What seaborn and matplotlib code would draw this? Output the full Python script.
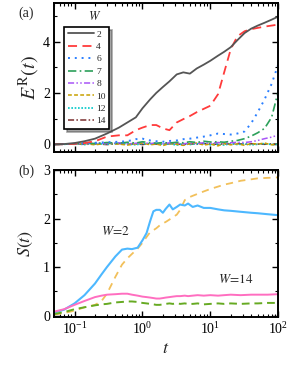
import matplotlib
matplotlib.use("Agg")
import matplotlib.pyplot as plt
import matplotlib.ticker as mticker
import pandas as pd
import seaborn as sns

# ---- panel (a): E^R(t) for each disorder W ----
t_a = [0.05, 0.07, 0.1, 0.14, 0.2, 0.3, 0.45, 0.6, 0.8, 1.0, 1.3, 1.6, 2.0, 2.5, 3.2,
       4.0, 5.0, 6.3, 8.0, 10, 13, 16, 20, 25, 32, 40, 50, 63, 80, 100]
e_w2 = [0.0, 0.01, 0.05, 0.12, 0.22, 0.42, 0.65, 0.85, 1.05, 1.4, 1.75, 2.0, 2.23, 2.45, 2.72,
        2.8, 2.75, 2.95, 3.1, 3.25, 3.45, 3.6, 3.78, 4.05, 4.33, 4.5, 4.62, 4.73, 4.85, 4.97]
e_w4 = [0.0, 0.0, 0.02, 0.05, 0.12, 0.3, 0.35, 0.35, 0.55, 0.65, 0.75, 0.75, 0.62, 0.55, 0.85,
        0.98, 1.1, 1.25, 1.38, 1.5, 1.95, 2.8, 3.7, 4.2, 4.4, 4.48, 4.53, 4.58, 4.62, 4.66]
e_w6 = [0.0, 0.01, 0.02, 0.04, 0.06, 0.08, 0.1, 0.12, 0.2, 0.22, 0.15, 0.12, 0.1, 0.13, 0.15,
        0.2, 0.22, 0.26, 0.3, 0.35, 0.42, 0.4, 0.38, 0.42, 0.5, 0.82, 1.25, 1.75, 2.35, 3.1]
e_w7 = [0.0, 0.01, 0.02, 0.05, 0.03, 0.07, 0.04, 0.08, 0.05, 0.1, 0.06, 0.04, 0.07, 0.05, 0.08,
        0.06, 0.1, 0.07, 0.12, 0.09, 0.1, 0.08, 0.12, 0.15, 0.22, 0.32, 0.45, 0.62, 1.05, 2.05]
e_w8 = [0.0, 0.01, 0.03, 0.02, 0.05, 0.03, 0.06, 0.02, 0.04, 0.07, 0.03, 0.05, 0.02, 0.06, 0.04,
        0.02, 0.05, 0.03, 0.06, 0.04, 0.07, 0.05, 0.06, 0.08, 0.07, 0.1, 0.15, 0.22, 0.28, 0.36]
e_w10 = [0.0, 0.01, 0.0, 0.03, -0.02, 0.04, 0.01, -0.03, 0.02, 0.05, -0.02, 0.01, -0.05, 0.03, 0.0,
         -0.04, 0.02, 0.05, -0.03, 0.01, -0.06, 0.03, -0.02, 0.02, -0.04, 0.03, 0.01, 0.05, -0.02, 0.02]
e_w12 = [0.0, 0.0, 0.02, -0.01, 0.03, 0.0, 0.05, 0.01, -0.02, 0.03, 0.0, 0.04, -0.01, 0.02, -0.03,
         0.03, -0.01, 0.02, 0.04, -0.02, 0.01, -0.03, 0.03, -0.01, 0.02, -0.02, 0.0, 0.03, -0.01, 0.01]
e_w14 = [0.0, 0.01, 0.01, 0.0, 0.02, -0.01, 0.03, 0.0, 0.02, -0.01, 0.03, 0.01, 0.0, 0.02, 0.01,
         -0.01, 0.02, 0.0, 0.03, 0.01, 0.0, 0.02, 0.01, 0.03, 0.0, 0.02, 0.01, 0.0, 0.02, 0.01]
w_labels = ["2", "4", "6", "7", "8", "10", "12", "14"]

# ---- panel (b): S(t) ----
t_b = [0.05, 0.07, 0.1, 0.14, 0.2, 0.25, 0.3, 0.4, 0.5, 0.6, 0.7, 0.85, 1.0, 1.15, 1.3, 1.45,
       1.6, 1.8, 2.0, 2.2, 2.5, 2.8, 3.2, 3.6, 4.2, 4.7, 5.5, 6.5, 8.0, 10, 13, 16, 20, 28,
       40, 50, 70, 100]
s_blue = [0.06, 0.12, 0.25, 0.42, 0.66, 0.85, 1.0, 1.22, 1.36, 1.38, 1.37, 1.4, 1.55, 1.7, 1.95,
          2.15, 2.18, 2.18, 2.12, 2.2, 2.29, 2.19, 2.24, 2.29, 2.27, 2.31, 2.24, 2.27, 2.22, 2.22,
          2.19, 2.17, 2.16, 2.14, 2.12, 2.11, 2.09, 2.07]
s_orange = [0.02, 0.05, 0.1, 0.17, 0.22, 0.3, 0.45, 0.8, 1.05, 1.18, 1.27, 1.38, 1.5, 1.62, 1.72,
            1.76, 1.8, 1.86, 1.9, 1.93, 1.98, 2.03, 2.08, 2.18, 2.38, 2.43, 2.47, 2.51, 2.56, 2.61,
            2.66, 2.7, 2.73, 2.78, 2.81, 2.83, 2.84, 2.85]
s_pink = [0.08, 0.13, 0.22, 0.3, 0.38, 0.41, 0.43, 0.44, 0.45, 0.45, 0.43, 0.41, 0.39, 0.38, 0.37,
          0.36, 0.35, 0.35, 0.36, 0.37, 0.38, 0.39, 0.4, 0.4, 0.41, 0.4, 0.41, 0.42, 0.41, 0.42,
          0.41, 0.42, 0.43, 0.42, 0.43, 0.43, 0.43, 0.44]
s_green = [0.03, 0.07, 0.13, 0.17, 0.21, 0.23, 0.24, 0.27, 0.28, 0.29, 0.29, 0.28, 0.26, 0.25, 0.24,
           0.23, 0.22, 0.22, 0.23, 0.24, 0.25, 0.24, 0.25, 0.24, 0.25, 0.24, 0.24, 0.25, 0.23, 0.24,
           0.25, 0.24, 0.25, 0.24, 0.25, 0.25, 0.26, 0.26]

sns.set_theme(style="ticks")
plt.rcParams["font.family"] = "serif"
plt.rcParams["font.serif"] = ["Liberation Serif", "DejaVu Serif"]
plt.rcParams["mathtext.fontset"] = "stix"
plt.rcParams["axes.linewidth"] = 1.4
plt.rcParams["xtick.direction"] = "in"
plt.rcParams["ytick.direction"] = "in"

fig = plt.figure(figsize=(2.91, 3.69), dpi=100)
ax_a = fig.add_axes([0.186, 0.588, 0.770, 0.404])
ax_b = fig.add_axes([0.186, 0.141, 0.770, 0.398])

styles_a = [
    ("#555555", "-", 1.3),
    ("#ff3b3b", (0, (5, 3)), 1.3),
    ("#2a7fff", (0, (1, 2.5)), 1.4),
    ("#2ca05a", (0, (5, 2, 1, 2)), 1.2),
    ("#a855f7", (0, (4, 1.5, 1, 1.5, 1, 1.5)), 1.1),
    ("#c8a000", (0, (2.5, 1.5)), 1.1),
    ("#00c8c8", (0, (1, 1)), 1.2),
    ("#7a2e2e", (0, (4, 1.5, 1, 1.5)), 1.1),
]
series_a = [e_w2, e_w4, e_w6, e_w7, e_w8, e_w10, e_w12, e_w14]
# near-zero curves first so the big ones sit on top
order = [7, 6, 5, 4, 3, 2, 1, 0]
handles = {}
for i in order:
    col, ls, lw = styles_a[i]
    df = pd.DataFrame({"t": t_a, "E": series_a[i]})
    sns.lineplot(data=df, x="t", y="E", ax=ax_a, color=col, linestyle=ls, lw=lw,
                 label=w_labels[i], legend=False)
    handles[i] = ax_a.lines[-1]

ax_a.set_xscale("log")
ax_a.set_xlim(0.05, 100)
ax_a.set_ylim(-0.3, 5.5)
ax_a.set_yticks([0, 2, 4])
ax_a.yaxis.set_minor_locator(mticker.MultipleLocator(1))
ax_a.set_xticklabels([])
ax_a.set_xlabel("")
ax_a.set_ylabel(r"$E^{\mathrm{R}}(t)$", fontsize=14.5, labelpad=1)

leg = ax_a.legend([handles[i] for i in range(8)], w_labels, loc="upper left",
                  bbox_to_anchor=(0.045, 0.84), fontsize=6.8, frameon=True, fancybox=False,
                  shadow=True, edgecolor="black", framealpha=1, handlelength=2.8,
                  labelspacing=0.4, borderpad=0.35, handletextpad=0.25, borderaxespad=0)
leg.get_frame().set_linewidth(1.2)
ax_a.text(0.18, 0.865, r"$W$", transform=ax_a.transAxes, fontsize=9, ha="center", va="bottom")
ax_a.text(-0.125, 0.93, "(a)", transform=ax_a.transAxes, fontsize=10, ha="center", va="center")

styles_b = [
    (s_orange, "#f2c05a", (0, (4, 3)), 1.3),
    (s_blue, "#4db8ff", "-", 1.5),
    (s_pink, "#ff6ec0", "-", 1.4),
    (s_green, "#66aa22", (0, (4, 2.5)), 1.4),
]
for vals, col, ls, lw in styles_b:
    df = pd.DataFrame({"t": t_b, "S": vals})
    sns.lineplot(data=df, x="t", y="S", ax=ax_b, color=col, linestyle=ls, lw=lw, legend=False)

ax_b.set_xscale("log")
ax_b.set_xlim(0.05, 100)
ax_b.set_ylim(-0.03, 3.0)
ax_b.set_yticks([0, 1, 2, 3])
ax_b.yaxis.set_minor_locator(mticker.MultipleLocator(0.5))
ax_b.set_xlabel(r"$t$", fontsize=13, labelpad=2)
ax_b.set_ylabel(r"$S(t)$", fontsize=13, labelpad=6)
ax_b.text(0.21, 0.56, r"$W\!=\!2$", transform=ax_b.transAxes, fontsize=9.5)
ax_b.text(0.73, 0.23, r"$W\!=\!14$", transform=ax_b.transAxes, fontsize=9.5)
ax_b.text(-0.125, 0.99, "(b)", transform=ax_b.transAxes, fontsize=10, ha="center", va="center")

for ax in (ax_a, ax_b):
    for s in ax.spines.values():
        s.set_visible(True)
        s.set_color("black")
    ax.tick_params(which="both", top=True, right=True, colors="black", labelsize=10)
    ax.tick_params(which="major", length=4, width=1.0, pad=3)
    ax.tick_params(which="minor", length=2, width=0.8)
    ax.xaxis.set_minor_locator(mticker.LogLocator(base=10, subs=range(2, 10), numticks=20))

fig.savefig("out.png", dpi=100)
